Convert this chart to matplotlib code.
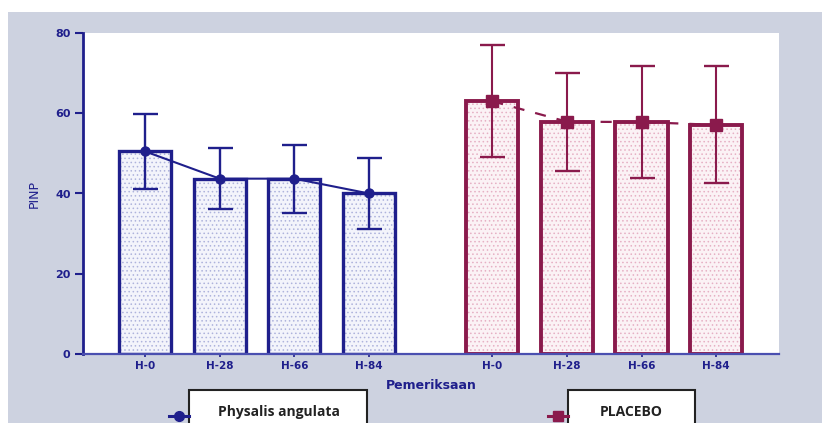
import numpy as np
import matplotlib
matplotlib.use("Agg")
import matplotlib.pyplot as plt
from matplotlib.patches import Rectangle
from matplotlib.lines import Line2D

# ---- data ----
categories = ["H-0", "H-28", "H-66", "H-84"]
physalis_mean = [50.5, 43.7, 43.7, 40.0]
physalis_sd = [9.3, 7.6, 8.5, 8.8]
placebo_mean = [63.0, 57.9, 57.8, 57.1]
placebo_sd = [13.9, 12.2, 14.0, 14.6]
series_names = ["Physalis angulata", "PLACEBO"]
y_ticks = [0, 20, 40, 60, 80]

NAVY = "#1f1f8c"
MAROON = "#8a1a4c"
BG = "#cdd2e0"

W, H = 822, 423
fig = plt.figure(figsize=(W / 100, H / 100), dpi=100)
fig.patch.set_facecolor("white")
fig.patches.append(Rectangle((8 / W, 0), 1 - 8 / W, (H - 12) / H, transform=fig.transFigure,
                             facecolor=BG, edgecolor="none", zorder=-10))

ax = fig.add_axes([83 / W, 69 / H, (779 - 83) / W, (354 - 33) / H])
ax.set_facecolor("white")

x1 = np.arange(len(categories))
x2 = np.arange(len(categories)) + 4.65
bw = 0.70

plt.rcParams["hatch.linewidth"] = 0.6

# fill layers with dotted pattern
ax.bar(x1, physalis_mean, bw, color="#f3f4fb", edgecolor="#aeb3dc", hatch="....", linewidth=0, zorder=1)
ax.bar(x2, placebo_mean, bw, color="#fbf2f5", edgecolor="#e6b0c4", hatch="....", linewidth=0, zorder=1)
# outlines
ax.bar(x1, physalis_mean, bw, facecolor="none", edgecolor=NAVY, linewidth=2.4, zorder=2)
ax.bar(x2, placebo_mean, bw, facecolor="none", edgecolor=MAROON, linewidth=2.8, zorder=2)

ax.errorbar(x1, physalis_mean, yerr=physalis_sd, fmt="none", ecolor=NAVY, elinewidth=1.7,
            capsize=9, capthick=1.7, zorder=3)
ax.errorbar(x2, placebo_mean, yerr=placebo_sd, fmt="none", ecolor=MAROON, elinewidth=1.5,
            capsize=9, capthick=1.7, zorder=3)

ax.plot(x1, physalis_mean, color=NAVY, lw=1.5, marker="o", ms=6.5, zorder=4)
ax.plot(x2, placebo_mean, color=MAROON, lw=1.6, ls=(0, (5, 5)), marker="s", ms=8, zorder=4)

ax.set_xlim(-0.83, 8.49)
ax.set_ylim(0, 80)
ax.set_yticks(y_ticks)
ax.set_yticklabels([str(v) for v in y_ticks], fontsize=8, fontweight="bold", color=NAVY)
ax.set_xticks(list(x1) + list(x2))
ax.set_xticklabels(categories + categories, fontsize=7.5, fontweight="bold", color=NAVY)
ax.tick_params(axis="y", direction="out", length=6, width=1.5, color=NAVY, pad=3)
ax.tick_params(axis="x", direction="out", length=2, width=1.2, color=NAVY, pad=3)

for s in ["top", "right"]:
    ax.spines[s].set_visible(False)
ax.spines["left"].set_color(NAVY)
ax.spines["left"].set_linewidth(2)
ax.spines["bottom"].set_color("#4a4fb0")
ax.spines["bottom"].set_linewidth(1.6)

ax.set_xlabel("Pemeriksaan", fontsize=9, fontweight="bold", color=NAVY, labelpad=6)
ax.set_ylabel("PINP", fontsize=9, color=NAVY)
ax.yaxis.set_label_coords(-42 / (779 - 83), 0.5)

# legend boxes drawn manually
def px(x, y):
    return x / W, 1 - y / H

for (bx0, bx1, cx, color, marker, name) in [
    (189, 367, 279, NAVY, "o", series_names[0]),
    (568, 695, 631, MAROON, "s", series_names[1]),
]:
    x0, y0 = px(bx0, 430)
    x1f, y1f = px(bx1, 390)
    fig.patches.append(Rectangle((x0, y0), x1f - x0, y1f - y0, transform=fig.transFigure,
                                 facecolor="white", edgecolor="#222222", linewidth=1.5,
                                 clip_on=False, zorder=5))
    tx, ty = px(cx, 412)
    fig.text(tx, ty, name, ha="center", va="center", fontsize=10, fontweight="bold",
             family="Open Sans", color="#222222", zorder=6)
    lx0, ly = px(bx0 - 20, 416)
    lx1, _ = px(bx0, 416)
    fig.lines.append(Line2D([lx0, lx1], [ly, ly], transform=fig.transFigure, color=color,
                            lw=2.2, zorder=6))
    mx, _ = px(bx0 - 10, 416)
    fig.lines.append(Line2D([mx], [ly], transform=fig.transFigure, color=color, marker=marker,
                            ms=7, lw=0, zorder=6))

fig.savefig("out.png", dpi=100, facecolor=fig.get_facecolor())
